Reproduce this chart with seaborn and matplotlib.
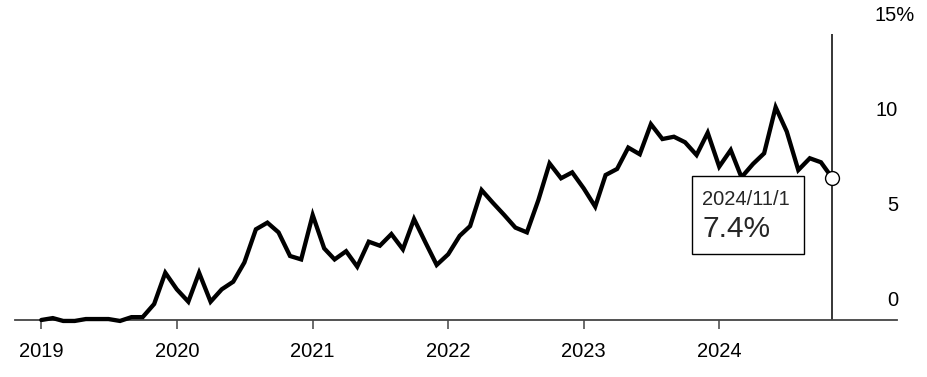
import numpy as np
import pandas as pd
import matplotlib
matplotlib.use("Agg")
import matplotlib.pyplot as plt
import matplotlib.transforms as mtrans
from matplotlib.patches import Rectangle
import seaborn as sns

# ---- data ----
start_month = "2019-01-01"
values = [0.0, 0.1, -0.05, -0.05, 0.05, 0.05, 0.05, -0.05, 0.15, 0.15,
          0.84, 2.48, 1.61, 0.96, 2.48, 0.96, 1.61, 2.01, 3.02, 4.76,
          5.11, 4.60, 3.36, 3.18, 5.51, 3.76, 3.18, 3.61, 2.80, 4.11,
          3.90, 4.51, 3.71, 5.30, 4.06, 2.89, 3.45, 4.42, 4.93, 6.82,
          6.16, 5.51, 4.85, 4.60, 6.30, 8.22, 7.44, 7.75, 6.91, 5.95,
          7.61, 7.93, 9.05, 8.70, 10.28, 9.50, 9.62, 9.33, 8.66, 9.83,
          8.05, 8.92, 7.49, 8.19, 8.75, 11.17, 9.89, 7.87, 8.49, 8.28,
          7.44]
dates = pd.date_range(start_month, periods=len(values), freq="MS")
year_ticks = pd.to_datetime(["2019-01-01", "2020-01-01", "2021-01-01",
                             "2022-01-01", "2023-01-01", "2024-01-01"])
year_labels = ["2019", "2020", "2021", "2022", "2023", "2024"]
y_ticks = [0, 5, 10, 15]
y_labels = ["0", "5", "10", "15%"]
callout_date = "2024/11/1"
callout_value = "7.4%"

df = pd.DataFrame({"date": dates, "value": values})

sns.set_style("white")
plt.rcParams["font.family"] = ["Liberation Sans", "DejaVu Sans"]

W, H = 927, 377
fig = plt.figure(figsize=(W / 100, H / 100), dpi=100)
ax = fig.add_axes([15 / W, (H - 320) / H, 882 / W, (320 - 34.25) / H])

sns.lineplot(data=df, x="date", y="value", ax=ax, color="black",
             linewidth=3.1, clip_on=False, zorder=3)
ax.lines[0].set_solid_joinstyle("miter")

# limits
px_per_day = 135.6 / 365.25
t0 = pd.Timestamp(start_month)
ax.set_xlim(t0 - pd.Timedelta(days=(41.3 - 15) / px_per_day),
            t0 + pd.Timedelta(days=(897 - 41.3) / px_per_day))
ax.set_ylim(0, 15)

# vertical marker line at latest point
last_date = dates[-1]
last_val = values[-1]
ax.vlines(last_date, 0, 15, color="black", linewidth=1.1, zorder=2)
ax.plot([last_date], [last_val], marker="o", markersize=10,
        markerfacecolor="white", markeredgecolor="black",
        markeredgewidth=1.0, linestyle="none", zorder=5, clip_on=False)

# spines
for s in ["top", "right", "left"]:
    ax.spines[s].set_visible(False)
ax.spines["bottom"].set_color("#444444")
ax.spines["bottom"].set_linewidth(1.3)

# x ticks
ax.set_xticks(year_ticks)
ax.set_xticklabels(year_labels)
ax.tick_params(axis="x", length=6.5, width=1.1, color="#444444",
               pad=9, labelsize=14.5, labelcolor="black", bottom=True)
ax.set_xlabel("")
ax.set_ylabel("")

# y ticks on the right, labels lifted above their levels
ax.yaxis.tick_right()
ax.set_yticks(y_ticks)
ax.set_yticklabels(y_labels)
ax.tick_params(axis="y", length=0, pad=0.7, labelsize=14.5,
               labelcolor="black")
for lab in ax.get_yticklabels():
    lab.set_horizontalalignment("right")
    lab.set_verticalalignment("center")
    dx = 17 / 100 if lab.get_text().endswith("%") else 0
    lab.set_transform(lab.get_transform() +
                      mtrans.ScaledTranslation(dx, 19 / 100,
                                               fig.dpi_scale_trans))
ax.grid(False)

# callout box
fig.canvas.draw()
px, py = ax.transData.transform((matplotlib.dates.date2num(last_date), last_val))
rect = Rectangle((px - 140, py - 76), 112, 78, transform=None,
                 facecolor="white", edgecolor="black", linewidth=1.0,
                 zorder=6)
fig.patches.append(rect)
rect.set_figure(fig)
fig.text((px - 130.5) / W, (py - 27) / H, callout_date, fontsize=14.5,
         ha="left", va="baseline", zorder=7)
fig.text((px - 130) / W, (py - 58.3) / H, callout_value, fontsize=21.5,
         ha="left", va="baseline", zorder=7)

fig.savefig("out.png", dpi=100, facecolor="white")
